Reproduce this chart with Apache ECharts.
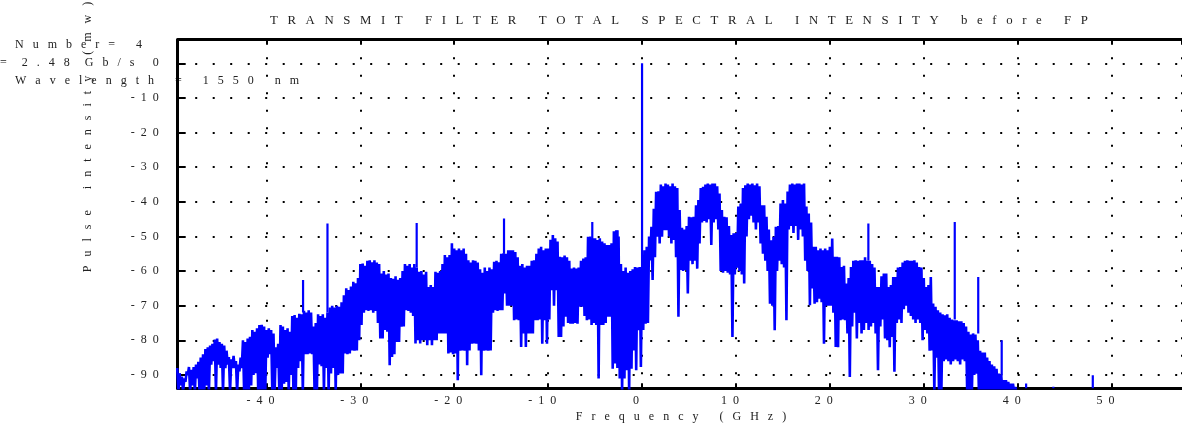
<!DOCTYPE html>
<html>
<head>
<meta charset="utf-8">
<script src="https://cdn.jsdelivr.net/npm/echarts@6/dist/echarts.min.js"></script>
<style>html,body{margin:0;padding:0;background:#fff;}#c{width:1182px;height:427px;}</style>
</head>
<body>
<div id="c"></div>
<script>
// ---- data ----
const titleText = 'TRANSMIT FILTER TOTAL SPECTRAL INTENSITY before FP';
const xAxisName = 'Frequency (GHz)';
const yAxisName = 'Pulse intensity (mw)';
const noteNumber = 'Number= 4';
const noteRate = '= 2.48 Gb/s';
const noteWave = 'Wavelength = 1550 nm';

// spectrum band sampled every 0.25 GHz starting at -49.5 GHz (8 samples = 2 GHz per row)
const freqStart = -49.5;
const freqStep = 0.25;
const upper = [
-88,-89.5,-90.5,-91,-89,-87.7,-88.5,-87.7,
-87,-86.2,-85,-84,-82.5,-82,-81.5,-81,
-79.8,-79.5,-80.5,-81,-81.5,-83,-84.8,-85.5,
-84.5,-86,-87,-85,-80,-80.5,-79.5,-79,
-77,-77.5,-76.5,-75.6,-75.5,-76,-77,-76.5,
-77,-78,-82,-81,-75.6,-76,-77,-76.5,
-77.5,-73,-72.7,-73.5,-72.3,-72.5,-71.5,-72,
-71.3,-72,-76,-75,-72.5,-73,-72.5,-73.5,
-72,-70.5,-70,-70.5,-70,-70.3,-69,-67,
-65,-65.5,-64.5,-63.1,-63.5,-62,-58,-57.8,
-58.5,-57,-56.9,-57.5,-56.9,-57.5,-58,-60.7,
-60,-61,-60.7,-62,-62.2,-61.5,-62.5,-62,
-60,-58,-58.5,-58,-59,-58,-59,-60.2,
-60,-61,-60.2,-64.6,-64,-64.6,-60.2,-60.5,
-60,-58,-55.4,-56,-55.4,-52,-53.5,-54,
-53.5,-54,-53.5,-55,-56.9,-57.5,-56.9,-57,
-57.5,-59.5,-60.5,-59,-60,-59,-59.5,-57.3,
-57,-57.5,-55,-54.9,-55,-54,-54,-54,
-54.5,-56,-58.5,-58,-59,-58.5,-58.5,-57,
-56.9,-55,-53.5,-53,-54,-53.5,-53.5,-51,
-49.6,-50.5,-51.5,-55.9,-56,-55.5,-56,-57,
-59.3,-59,-59.3,-59,-57,-56.4,-56,-50.1,
-50,-50.5,-50.5,-51,-50.5,-51.5,-52,-52.5,
-52.5,-52,-48.5,-48.2,-50,-58,-60,-59,
-60.5,-60,-59.5,-58.8,-59,-58.8,-59,-54,
-53,-50,-47.2,-42,-37.1,-37,-35,-35.5,
-34.7,-35,-35.5,-34.7,-35.5,-36,-42.4,-47.5,
-48,-47,-44.3,-44.5,-44.3,-41,-39.5,-36,
-35.7,-35,-34.7,-35,-34.7,-34.7,-35.5,-37.6,
-42.4,-44.3,-44.5,-47,-49.6,-49.1,-49,-41.4,
-40.5,-36,-35.2,-34.7,-35,-34.7,-35.2,-34.7,
-35.5,-41,-41,-44.3,-48,-51.1,-50.1,-47.2,
-47,-40.5,-39.5,-40.5,-37,-35,-34.7,-35,
-34.7,-34.7,-35,-34.7,-41.4,-43.4,-46,-53,
-53,-54,-53.5,-54,-53.5,-54,-53,-50.6,
-55.9,-55.9,-56,-58.8,-58.5,-63.6,-62,-58.8,
-57,-56.9,-57,-56.9,-56.9,-56,-57,-57,
-58,-59,-64.6,-64.6,-61.5,-60.7,-60.7,-64.6,
-64,-61.7,-61.7,-59,-58.8,-57.5,-57,-56.9,
-57,-57,-56.9,-57.5,-58.8,-59,-62,-64.6,
-64,-61.7,-69.4,-70.3,-71.3,-72,-72.5,-72.8,
-72.5,-73.5,-74,-74.2,-74.2,-74.5,-74.5,-75,
-76,-77.5,-78.3,-78,-78.3,-80,-83,-83.5,
-83.5,-85,-86,-87,-87.5,-88.2,-89.6,-90,
-91.5,-91.5,-92,-92.5,-92.5,-93.5,-94.5,-95
];
const lower = [
-95,-93,-95,-92,-90,-95,-93,-95,
-91,-95,-95,-95,-93,-95,-87,-86,
-95,-87,-88,-95,-88,-87,-95,-88,
-88,-95,-89,-88,-95,-95,-95,-93,
-90,-89.5,-95,-95,-95,-95,-85,-84,
-95,-95,-88,-95,-95,-92.5,-92,-95,
-90,-95,-95,-88,-86,-95,-84,-84,
-83.8,-84,-95,-95,-87,-87.5,-95,-88,
-95,-89.6,-88,-95,-90,-89.6,-89.6,-83.8,
-84,-83.8,-82.9,-83,-82.9,-80,-75.6,-72,
-71.3,-71.5,-71.3,-72,-71.5,-75,-79.5,-79.5,
-77,-77.5,-87.2,-84.8,-84,-80.5,-80.5,-76.1,
-76,-71.3,-71.5,-72,-73,-80.9,-80,-80.9,
-80,-80,-81.4,-80,-81.4,-80,-80,-78,
-78,-78,-78,-83.8,-83.5,-84,-83.8,-91.5,
-83,-82.9,-83,-87.2,-82.9,-81,-80.9,-81,
-82.9,-90.1,-83,-82.9,-83,-82.9,-72,-71.3,
-71.5,-71.3,-71.3,-66.5,-70,-70,-70,-74.2,
-74,-74.2,-81.9,-78,-81.9,-78,-78,-78,
-74.2,-74.2,-74,-81,-74.2,-81,-74,-65.5,
-70,-65.5,-79,-79,-76,-73.2,-75,-75.2,
-75.2,-75,-75.2,-70.3,-70.3,-73,-74.2,-74,
-75.6,-75,-75.6,-91,-75.6,-75.6,-75,-73.2,
-73.2,-88.2,-86.7,-88,-91,-95,-91,-88.6,
-95,-88.2,-82.9,-88.6,-77.1,-87.7,-77,-75.2,
-75,-56.9,-62.6,-56,-50.1,-52,-50.1,-48.2,
-48.2,-50,-52,-51,-56,-73.2,-59.7,-60,
-59.7,-66.5,-57,-58,-57,-59.3,-52,-46,
-45.5,-46,-45,-52.5,-46,-45,-48,-60,
-60.5,-60,-60.5,-61,-79,-61,-59,-60,
-61,-63.6,-50,-45,-44,-46,-48,-46,
-52,-55,-57,-60,-69.4,-70,-77.1,-60,
-57,-58,-59,-74.2,-48,-47,-49,-47,
-51,-48,-50,-57,-60,-69.9,-65,-69.4,
-69,-68,-69,-81,-70,-70,-70,-72,
-81.9,-82,-74.2,-74,-74.2,-78,-90.6,-76,
-72,-79.5,-75,-78,-77,-75,-77,-76,
-75,-78,-88.6,-76,-74,-79.5,-80,-82,
-79,-89.1,-75,-74,-75,-71,-70,-72,
-73,-74,-75,-74,-75,-80,-77,-78,
-83,-82.9,-95,-85,-95,-95,-86,-85.5,
-86,-87,-86,-85.5,-86,-87,-85.5,-86,
-95,-95,-95,-90,-89.6,-95,-95,-95,
-95,-95,-95,-95,-95,-95,-95,-95,
-95,-95,-95,-95,-95,-95,-95,-95
];
// narrow spikes: [frequency GHz, top dB, base dB]
const spikes = [
[-36.1,-62.6,-72],[-33.5,-46.3,-72],[-24.0,-46.1,-59],[-14.7,-44.8,-55],
[-5.3,-45.8,-51],[-2.6,-48.2,-56],[0.0,0,-60],[24.1,-46.3,-57],
[33.3,-45.8,-74],[35.8,-61.7,-78],[38.3,-80,-90],[40.9,-92.5,-96],
[43.8,-93.4,-96],[48.0,-90.1,-96]
];
const xRange = [-49.45, 57.5];
const yRange = [-93.85, 6.8];

// ---- build ----
const lineData = [];
for (let i = 0; i < upper.length; i++) {
  const f = freqStart + i * freqStep;
  lineData.push([f, upper[i]]);
  lineData.push([f + freqStep / 2, lower[i]]);
}
function spread(s, gap, wordGap) {
  return s.split(' ').map(w => w.split('').join(gap)).join(wordGap);
}
const G = '\u2002 ';
const WG = '\u2002\u2002\u2002 ';
const serif = '"Liberation Serif", "DejaVu Serif", serif';
const txtColor = '#222';
const gridDash = { color: '#000', width: 2, type: [2, 15.5] };
const lbl = v => String(v).split('').join('  ');

const chart = echarts.init(document.getElementById('c'), null, { renderer: 'canvas' });
chart.setOption({
  backgroundColor: '#fff',
  animation: false,
  grid: { left: 177.7, top: 39.7, right: -4, bottom: 38.7 },
  xAxis: [{
    type: 'value', position: 'bottom', min: xRange[0], max: xRange[1],
    splitNumber: 10, minInterval: 10, maxInterval: 10,
    axisLine: { show: true, onZero: false, lineStyle: { color: '#000', width: 3 } },
    axisTick: { show: true, inside: true, length: 5, lineStyle: { color: '#000', width: 2 } },
    axisLabel: { show: true, formatter: lbl, fontFamily: serif, fontSize: 12, color: txtColor,
      margin: 7, showMinLabel: false, showMaxLabel: false, padding: [0, 12, 0, 0] },
    splitLine: { show: true, lineStyle: gridDash }
  }, {
    type: 'value', position: 'top', min: xRange[0], max: xRange[1],
    splitNumber: 10, minInterval: 10, maxInterval: 10,
    axisLine: { show: true, onZero: false, lineStyle: { color: '#000', width: 3 } },
    axisTick: { show: true, inside: true, length: 5, lineStyle: { color: '#000', width: 2 } },
    axisLabel: { show: false }, splitLine: { show: false }
  }],
  yAxis: [{
    type: 'value', min: yRange[0], max: yRange[1],
    splitNumber: 10, minInterval: 10, maxInterval: 10,
    axisLine: { show: true, onZero: false, lineStyle: { color: '#000', width: 3 } },
    axisTick: { show: true, inside: true, length: 8, lineStyle: { color: '#000', width: 2 } },
    axisLabel: { show: true, formatter: lbl, fontFamily: serif, fontSize: 12, color: txtColor,
      margin: 19, showMinLabel: false, showMaxLabel: false },
    splitLine: { show: true, lineStyle: gridDash }
  }],
  series: [{
    type: 'line', data: lineData, xAxisIndex: 0, yAxisIndex: 0,
    showSymbol: false, symbol: 'none', clip: true,
    lineStyle: { color: '#0000ff', width: 2.6, join: 'bevel' }, z: 5
  }, {
    type: 'custom', data: spikes, xAxisIndex: 0, yAxisIndex: 0, clip: true,
    encode: { x: 0, y: [1, 2] },
    renderItem: function (params, api) {
      const a = api.coord([api.value(0), api.value(1)]);
      const b = api.coord([api.value(0), api.value(2)]);
      return { type: 'line', shape: { x1: a[0], y1: a[1], x2: b[0], y2: b[1] },
        style: { stroke: '#0000ff', lineWidth: 2.2 } };
    }, z: 6
  }],
  graphic: [
    { type: 'text', x: 679, y: 21, silent: true,
      style: { text: spread(titleText, G, WG), font: '12.8px ' + serif, fill: txtColor, align: 'center', verticalAlign: 'middle' } },
    { type: 'text', x: 681, y: 417, silent: true,
      style: { text: spread(xAxisName, G, WG), font: '12px ' + serif, fill: txtColor, align: 'center', verticalAlign: 'middle' } },
    { type: 'text', x: 88, y: 137, rotation: Math.PI / 2, silent: true,
      style: { text: spread(yAxisName, G, WG), font: '12px ' + serif, fill: txtColor, align: 'center', verticalAlign: 'middle' } },
    { type: 'text', x: 15, y: 45, silent: true,
      style: { text: spread(noteNumber, G, WG), font: '12px ' + serif, fill: txtColor, align: 'left', verticalAlign: 'middle' } },
    { type: 'text', x: 0, y: 63, silent: true,
      style: { text: spread(noteRate, G, '\u2002\u2002 '), font: '12px ' + serif, fill: txtColor, align: 'left', verticalAlign: 'middle' } },
    { type: 'text', x: 15, y: 80.7, silent: true,
      style: { text: spread(noteWave, G, WG), font: '12px ' + serif, fill: txtColor, align: 'left', verticalAlign: 'middle' } }
  ]
});
</script>
</body>
</html>
